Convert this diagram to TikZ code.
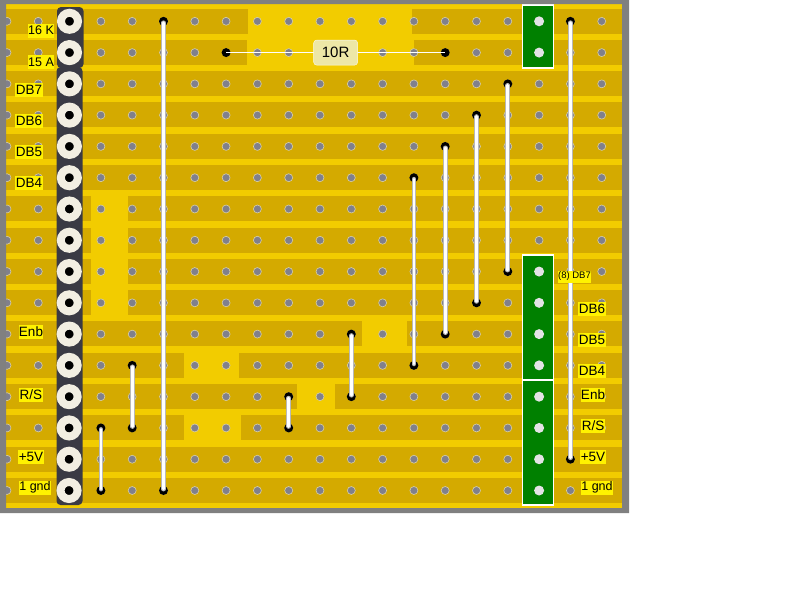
\documentclass[tikz,border=0pt]{standalone}
\usepackage{fontspec}
\setmainfont{Liberation Sans}
\usetikzlibrary{positioning,calc}

\definecolor{stripdark}{HTML}{D4AA00}
\definecolor{boardlight}{HTML}{F2CC00}
\definecolor{frameg}{HTML}{808080}
\definecolor{holeg}{HTML}{80808C}
\definecolor{rimg}{HTML}{D8CFA8}
\definecolor{greenpad}{HTML}{008000}
\definecolor{headerk}{HTML}{3A3A44}
\definecolor{ringw}{HTML}{F2EEE2}
\definecolor{bodyres}{HTML}{EDE7A6}

\begin{document}
\begin{tikzpicture}[x=1pt,y=-1pt]

        \def\pitchx{31.3}
        \def\pitchy{31.28}

        \tikzset{
            hole/.style={circle, fill=holeg, draw=rimg, line width=.6pt,
                inner sep=0pt, minimum size=8pt},
            padhole/.style={circle, fill=white!78!holeg, inner sep=0pt,
                minimum size=10pt},
            pin/.style={circle, fill=black, draw=ringw, line width=8pt,
                inner sep=0pt, minimum size=17pt},
            linkend/.style={circle, fill=black, inner sep=0pt, minimum size=9pt},
            linkwire/.style={draw=white!72!black, line width=4.8pt, line cap=round,
                postaction={draw=white, line width=2.8pt, line cap=round}},
            leadwire/.style={draw=white, line width=1.4pt},
            lab/.style={fill=yellow, text=black, font=\fontsize{13.5}{14}\selectfont,
                inner xsep=.4pt, inner ysep=0pt, minimum height=14pt},
            labthin/.style={lab, font=\fontsize{12.5}{13}\selectfont},
            padstrip/.style={fill=greenpad, draw=white, line width=1.4pt},
        }

        \useasboundingbox (0,0) rectangle (800,600);

        % The board and its copper strips
        \fill[boardlight] (0,0) rectangle (629,513);
        \foreach \r in {0,...,15} {
            \fill[stripdark] (6,{8.6+\pitchy*\r}) rectangle (622,{33.6+\pitchy*\r});
        }

        % Places where the strips are cut away
        \foreach \r/\xa/\xb in {0/248/412, 1/247/414, 6/91/128, 7/91/128, 8/91/128,
                9/91/128, 10/362/407, 11/184/239, 12/297/335, 13/184/241} {
            \fill[boardlight] (\xa,{7.6+\pitchy*\r}) rectangle (\xb,{34.6+\pitchy*\r});
        }

        % Green pads
        \draw[padstrip] (522.5,5) rectangle (553.5,68);
        \draw[padstrip] (522.5,255) rectangle (553.5,380);
        \draw[padstrip] (522.5,380) rectangle (553.5,505);

        % Every hole of the board
        \foreach \r in {0,...,15} {
            \foreach \c in {0,...,19} {
                \node[hole] (h\c-\r) at ({7+\pitchx*\c},{21.3+\pitchy*\r}) {};
            }
        }
        \foreach \r in {0,1,8,9,10,11,12,13,14,15} {
            \node[padhole] (p\r) at (h17-\r) {};
        }

        % Frame on top, so that the first column is cut in half
        \fill[frameg, even odd rule] (0,0) rectangle (629,513) (6,4) rectangle (622,508);

        % Pin header
        \fill[headerk, rounded corners=4pt] (57,7) rectangle (83.5,68);
        \fill[headerk, rounded corners=4pt] (56.5,67) rectangle (82.5,505);
        \foreach \r in {0,...,15} {
            \node[pin] (P\r) at ({69.5-.03*\r},{21.3+\pitchy*\r}) {};
        }

        % Resistor
        \node[linkend] (Ra) at (h7-1) {};
        \node[linkend] (Rb) at (h14-1) {};
        \draw[leadwire] (Ra.center) -- (Rb.center);
        \node[fill=bodyres, draw=white!80!bodyres, rounded corners=3pt, inner sep=0pt,
            minimum width=44pt, minimum height=25pt,
            font=\fontsize{15}{15}\selectfont] (R10) at ($(Ra)!.5!(Rb)$) {10R};

        % Wire links
        \foreach \c/\a/\b in {5/0/15, 18/0/14, 16/2/8, 15/3/9, 14/4/10,
                13/5/11, 11/10/12, 9/12/13, 4/11/13, 3/13/15} {
            \node[linkend] (L\c a) at (h\c-\a) {};
            \node[linkend] (L\c b) at (h\c-\b) {};
            \draw[linkwire] ($(L\c a.center)+(0,1.5)$) -- ($(L\c b.center)+(0,-1.5)$);
        }

        % Left labels
        \node[labthin] (l16) at (41,30.5) {16 K};
        \node[labthin] (l15) at (41,62) {15 A};
        \node[lab] (lDB7) at (29,89.5) {DB7};
        \node[lab] (lDB6) at (29,120.5) {DB6};
        \node[lab] (lDB5) at (29,152) {DB5};
        \node[lab] (lDB4) at (29,183) {DB4};
        \node[lab] (lEnb) at (31,332) {Enb};
        \node[lab] (lRS) at (31,394.5) {R/S};
        \node[lab] (lV) at (31,457) {+5V};
        \node[labthin] (lgnd) at (35,487.5) {1 gnd};

        % Right labels
        \node[lab, font=\fontsize{9.5}{10}\selectfont, minimum height=12pt] (rDB7) at (574.5,276.5) {(8) DB7};
        \node[lab] (rDB6) at (592,308.5) {DB6};
        \node[lab] (rDB5) at (592,339.5) {DB5};
        \node[lab] (rDB4) at (592,371) {DB4};
        \node[lab] (rEnb) at (593,394.5) {Enb};
        \node[lab] (rRS) at (593,425.5) {R/S};
        \node[lab] (rV) at (593,457) {+5V};
        \node[labthin] (rgnd) at (597,487.5) {1 gnd};

\end{tikzpicture}
\end{document}
